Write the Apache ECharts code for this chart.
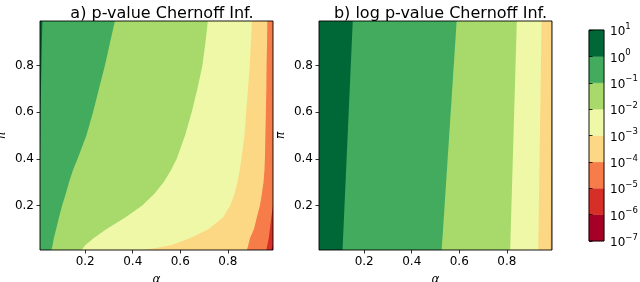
<!DOCTYPE html>
<html><head><meta charset="utf-8">
<script src="https://cdn.jsdelivr.net/npm/echarts@6/dist/echarts.min.js"></script>
<style>html,body{margin:0;padding:0;background:#fff}#c{width:640px;height:282px}</style>
</head><body><div id="c"></div>
<script>
// ---------- data ----------
const alphaTicks = [0.2, 0.4, 0.6, 0.8];
const piTicks = [0.2, 0.4, 0.6, 0.8];
const axisRange = [0.01, 0.99];
const levelExps = [-7, -6, -5, -4, -3, -2, -1, 0, 1];
// band colours, band i lies between 10^levelExps[i] and 10^levelExps[i+1]
const levelColors = ['#a50026', '#d62f27', '#f67c4a', '#fdd884', '#eff8a6', '#a7d96b', '#42ab5d', '#006837'];
const titleA = 'a) p-value Chernoff Inf.';
const titleB = 'b) log p-value Chernoff Inf.';

// panel a: contour boundaries (alpha position) at each pi sample, levels 10^0 ... 10^-6
const piA = [0.01, 0.03, 0.06, 0.1, 0.15, 0.2, 0.25, 0.3, 0.35, 0.4, 0.5, 0.6, 0.7, 0.8, 0.9, 0.99];
const aLev0  = [0.01, 0.01, 0.01, 0.01, 0.01, 0.01, 0.01, 0.01, 0.01, 0.01, 0.011, 0.012, 0.014, 0.016, 0.018, 0.02];
const aLevM1 = [0.058, 0.063, 0.068, 0.078, 0.09, 0.103, 0.118, 0.132, 0.148, 0.168, 0.205, 0.233, 0.258, 0.283, 0.305, 0.325];
const aLevM2 = [0.185, 0.2, 0.235, 0.29, 0.37, 0.44, 0.49, 0.53, 0.56, 0.585, 0.62, 0.648, 0.672, 0.693, 0.706, 0.716];
const aLevM3 = [0.45, 0.56, 0.64, 0.72, 0.78, 0.81, 0.828, 0.84, 0.85, 0.857, 0.87, 0.877, 0.885, 0.892, 0.897, 0.901];
const aLevM4 = [0.88, 0.886, 0.893, 0.91, 0.922, 0.935, 0.943, 0.95, 0.954, 0.956, 0.958, 0.96, 0.962, 0.963, 0.965, 0.966];
const aLevM5 = [0.962, 0.966, 0.972, 0.977, 0.983, 0.99, 0.99, 0.99, 0.99, 0.99, 0.99, 0.99, 0.99, 0.99, 0.99, 0.99];
const aLevM6 = [0.983, 0.99, 0.99, 0.99, 0.99, 0.99, 0.99, 0.99, 0.99, 0.99, 0.99, 0.99, 0.99, 0.99, 0.99, 0.99];

// panel b
const piB = [0.01, 0.99];
const bLev0  = [0.109, 0.152];
const bLevM1 = [0.526, 0.589];
const bLevM2 = [0.814, 0.842];
const bLevM3 = [0.932, 0.946];
const bLevM4 = [0.985, 0.988];
const bLevM5 = [0.99, 0.99];
const bLevM6 = [0.99, 0.99];

// ---------- chart ----------
const FONT = 'DejaVu Sans';
const boundsA = [aLev0, aLevM1, aLevM2, aLevM3, aLevM4, aLevM5, aLevM6];
const boundsB = [bLev0, bLevM1, bLevM2, bLevM3, bLevM4, bLevM5, bLevM6];

function contourSeries(gi, bounds, piArr) {
  const n = bounds.length + 1;
  const data = [];
  for (let k = 0; k <= n; k++) data.push([k, 0.5, 0.5]);
  return {
    type: 'custom', xAxisIndex: gi, yAxisIndex: gi, clip: false,
    encode: { x: 1, y: 2 }, silent: true, z: 2,
    data: data,
    renderItem: function (params, api) {
      const k = api.value(0);
      if (k === n) {
        const p0 = api.coord([axisRange[0], axisRange[1]]);
        const p1 = api.coord([axisRange[1], axisRange[0]]);
        return { type: 'rect', z2: 100,
          shape: { x: p0[0], y: p0[1], width: p1[0] - p0[0], height: p1[1] - p0[1] },
          style: { fill: null, stroke: '#000', lineWidth: 0.9 } };
      }
      const pts = [];
      for (let i = 0; i < piArr.length; i++) {
        const a = k === 0 ? axisRange[0] : bounds[k - 1][i];
        pts.push(api.coord([a, piArr[i]]));
      }
      for (let i = piArr.length - 1; i >= 0; i--) pts.push(api.coord([axisRange[1], piArr[i]]));
      return {
        type: 'polygon', z2: k,
        shape: { points: pts },
        style: { fill: levelColors[levelColors.length - 1 - k], stroke: null }
      };
    }
  };
}

const lineStyle = { color: '#000', width: 0.8 };
function xAxes(gi) {
  return [{
    type: 'value', gridIndex: gi, min: axisRange[0], max: axisRange[1], position: 'bottom', z: 10,
    axisLine: { show: false },
    axisTick: { show: true, length: 3.5, lineStyle, customValues: alphaTicks },
    axisLabel: { customValues: alphaTicks, formatter: v => v.toFixed(1), color: '#000', fontSize: 12, fontFamily: FONT, margin: 6 },
    splitLine: { show: false },
    name: 'α', nameLocation: 'middle', nameGap: 24,
    nameTextStyle: { fontStyle: 'italic', fontFamily: FONT, fontSize: 12, color: '#000' }
  }];
}
function yAxes(gi) {
  return [{
    type: 'value', gridIndex: gi, min: axisRange[0], max: axisRange[1], position: 'left', z: 10,
    axisLine: { show: false },
    axisTick: { show: true, length: 3.5, lineStyle, customValues: piTicks },
    axisLabel: { customValues: piTicks, formatter: v => v.toFixed(1), color: '#000', fontSize: 12, fontFamily: FONT, margin: 6 },
    splitLine: { show: false },
    name: 'π', nameLocation: 'middle', nameGap: 32, nameRotate: 90,
    nameTextStyle: { fontStyle: 'italic', fontFamily: FONT, fontSize: 12, color: '#000' }
  }];
}

const cbMin = levelExps[0], cbMax = levelExps[levelExps.length - 1];
const colorbarSeries = {
  type: 'custom', xAxisIndex: 2, yAxisIndex: 2, silent: true, z: 2,
  encode: { x: 1, y: 2 },
  data: levelColors.map((c, i) => [i, 0.5, levelExps[i]]).concat([[levelColors.length, 0.5, 0]]),
  renderItem: function (params, api) {
    const i = api.value(0);
    if (i === levelColors.length) {
      const q0 = api.coord([0, cbMax]);
      const q1 = api.coord([1, cbMin]);
      return { type: 'rect', z2: 100, shape: { x: q0[0], y: q0[1], width: q1[0] - q0[0], height: q1[1] - q0[1] },
        style: { fill: null, stroke: '#000', lineWidth: 0.9 } };
    }
    const p0 = api.coord([0, levelExps[i]]);
    const p1 = api.coord([1, levelExps[i + 1]]);
    return { type: 'rect', shape: { x: p0[0], y: p1[1], width: p1[0] - p0[0], height: p0[1] - p1[1] },
      style: { fill: levelColors[i], stroke: levelColors[i], lineWidth: 0.5 } };
  }
};

const option = {
  animation: false,
  backgroundColor: '#fff',
  title: [
    { text: titleA, left: 157, top: 1, textAlign: 'center', textStyle: { fontFamily: FONT, fontSize: 16, fontWeight: 'normal', color: '#000' } },
    { text: titleB, left: 435.5, top: 1, textAlign: 'center', textStyle: { fontFamily: FONT, fontSize: 16, fontWeight: 'normal', color: '#000' } }
  ],
  grid: [
    { left: 40, top: 21, width: 233, height: 229, containLabel: false, outerBoundsMode: 'none' },
    { left: 319, top: 21, width: 233, height: 229, containLabel: false, outerBoundsMode: 'none' },
    { left: 589, top: 30, width: 15, height: 211, containLabel: false, outerBoundsMode: 'none' }
  ],
  xAxis: [...xAxes(0), ...xAxes(1),
    { type: 'value', gridIndex: 2, min: 0, max: 1, show: false }
  ],
  yAxis: [...yAxes(0), ...yAxes(1),
    { type: 'value', gridIndex: 2, min: cbMin, max: cbMax, interval: 1, position: 'right', z: 10,
      axisLine: { show: false },
      axisTick: { show: true, length: 3.5, lineStyle },
      axisLabel: { margin: 6, color: '#000', fontFamily: FONT,
        formatter: v => '{a|10}{e|' + (v < 0 ? '\u2212' + (-v) : v) + '}',
        rich: { a: { fontSize: 12, fontFamily: FONT, color: '#000', verticalAlign: 'bottom', lineHeight: 16 },
                e: { fontSize: 8.5, fontFamily: FONT, color: '#000', verticalAlign: 'top', lineHeight: 16 } } },
      splitLine: { show: false } }
  ],
  series: [contourSeries(0, boundsA, piA), contourSeries(1, boundsB, piB), colorbarSeries]
};
const chart = echarts.init(document.getElementById('c'), null, { renderer: 'canvas' });
chart.setOption(option);
</script>
</body></html>
